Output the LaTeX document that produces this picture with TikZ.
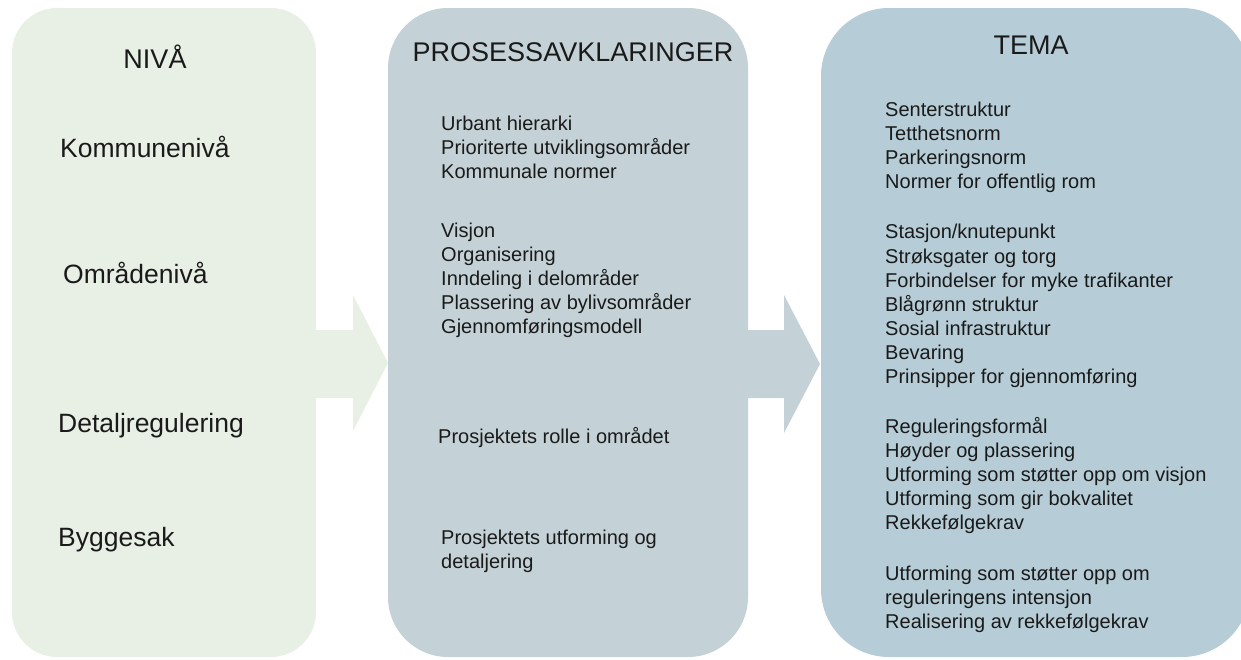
\documentclass[tikz,border=0pt]{standalone}
\usepackage{fontspec}
\setmainfont{Liberation Sans}
\definecolor{cNiva}{HTML}{E8F0E5}
\definecolor{cProc}{HTML}{C4D2D7}
\definecolor{cTema}{HTML}{B6CDD7}
\definecolor{cText}{HTML}{1A1A1A}
\tikzset{
  titletext/.style={anchor=base, inner sep=0pt, text=cText, font=\fontsize{27}{32}\selectfont},
  leveltext/.style={anchor=base west, inner sep=0pt, text=cText, font=\fontsize{26.5}{31}\selectfont},
  itemtext/.style={anchor=base west, inner sep=0pt, text=cText, font=\fontsize{20}{24}\selectfont},
}
\begin{document}
\begin{tikzpicture}[x=1pt,y=-1pt]
\useasboundingbox (0,0) rectangle (1241,659);
% arrows (under the boxes)
\fill[cNiva] (290,330) -- (353,330) -- (353,295) -- (388,363) -- (353,431) -- (353,398) -- (290,398) -- cycle;
\fill[cProc] (730,330) -- (784,330) -- (784,295) -- (820,364) -- (784,433) -- (784,398) -- (730,398) -- cycle;
% boxes
\fill[cNiva, rounded corners=45pt] (12,8) rectangle (316,657);
\fill[cProc, rounded corners=60pt] (388,8) rectangle (748,657);
\fill[cTema, rounded corners=68pt] (821,8) rectangle (1250,657);
% titles
\node[titletext] (tNiva) at (155,68) {NIVÅ};
\node[titletext] (tProc) at (573,61) {PROSESSAVKLARINGER};
\node[titletext] (tTema) at (1031,54) {TEMA};
% levels
\node[leveltext] (lKom) at (60,157) {Kommunenivå};
\node[leveltext] (lOmr) at (63,283) {Områdenivå};
\node[leveltext] (lDet) at (58,432) {Detaljregulering};
\node[leveltext] (lBygg) at (58,546) {Byggesak};
% process items
\foreach \y/\t [count=\i] in {
  130/Urbant hierarki,
  154/Prioriterte utviklingsområder,
  178/Kommunale normer,
  237/Visjon,
  261/Organisering,
  285/Inndeling i delområder,
  309/Plassering av bylivsområder,
  333/Gjennomføringsmodell,
  544/Prosjektets utforming og,
  568/detaljering}
  \node[itemtext] (p\i) at (441,\y) {\t};
\node[itemtext] (pRolle) at (438,443) {Prosjektets rolle i området};
% theme items
\foreach \y/\t [count=\i] in {
  116/Senterstruktur,
  140/Tetthetsnorm,
  164/Parkeringsnorm,
  188/Normer for offentlig rom,
  238/Stasjon\slash knutepunkt,
  263/Strøksgater og torg,
  287/Forbindelser for myke trafikanter,
  311/Blågrønn struktur,
  335/Sosial infrastruktur,
  359/Bevaring,
  383/Prinsipper for gjennomføring,
  433/Reguleringsformål,
  457/Høyder og plassering,
  481/Utforming som støtter opp om visjon,
  505/Utforming som gir bokvalitet,
  529/Rekkefølgekrav,
  580/Utforming som støtter opp om,
  604/reguleringens intensjon,
  628/Realisering av rekkefølgekrav}
  \node[itemtext] (m\i) at (885,\y) {\t};
\end{tikzpicture}
\end{document}
